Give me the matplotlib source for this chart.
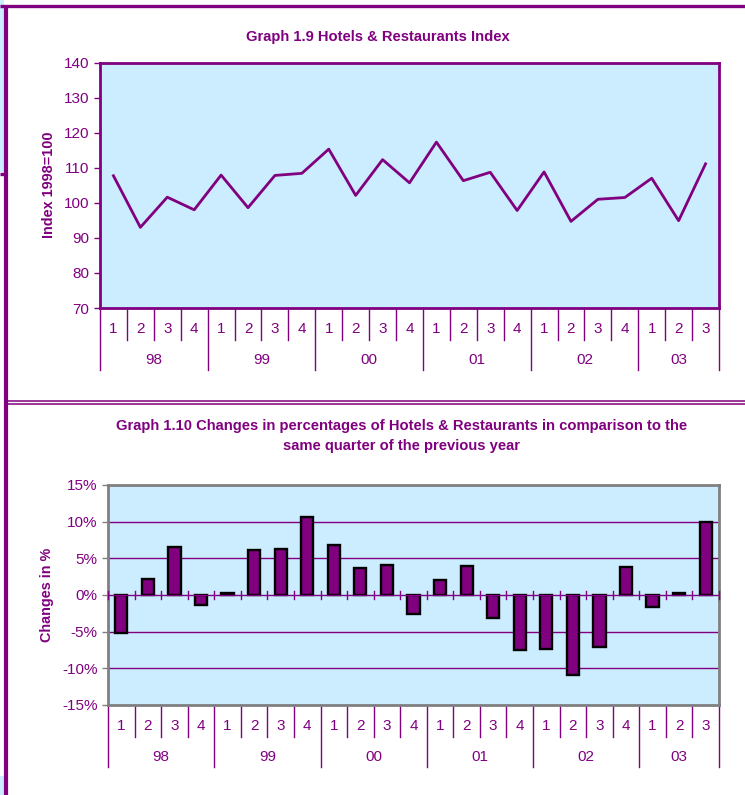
import matplotlib
matplotlib.use('Agg')
import matplotlib.pyplot as plt
import matplotlib.transforms as mtrans
import numpy as np

plt.rcParams['font.family'] = ['Liberation Sans', 'DejaVu Sans']

PURPLE = '#800080'
BG = '#CCECFF'
GRAY = '#808080'
W, H = 745, 795

# ---- data ----
years = ['98', '99', '00', '01', '02', '03']
quarters = ['1', '2', '3', '4'] * 5 + ['1', '2', '3']
index_vals = [107.7, 93.0, 101.6, 98.0, 107.9, 98.6, 107.8, 108.4, 115.3, 102.1,
              112.3, 105.7, 117.3, 106.3, 108.7, 97.8, 108.8, 94.7, 101.0, 101.5,
              107.0, 94.9, 111.1]
change_vals = [-5.2, 2.2, 6.5, -1.4, 0.3, 6.1, 6.3, 10.7, 6.8, 3.7, 4.1, -2.6,
               2.0, 4.0, -3.2, -7.5, -7.4, -10.9, -7.1, 3.8, -1.6, 0.3, 10.0]

fig = plt.figure(figsize=(W / 100, H / 100), dpi=100)


def px_axes(l, t, r, b):
    return fig.add_axes([l / W, 1 - b / H, (r - l) / W, (b - t) / H])


# page frame
frame = fig.add_axes([0, 0, 1, 1])
frame.set_xlim(0, W); frame.set_ylim(H, 0)
frame.axis('off')
frame.fill_between([0, 4], 0, 172, color=BG, lw=0)
frame.fill_between([0, 4], 776, H, color=BG, lw=0)
frame.plot([0, W], [6, 6], color=PURPLE, lw=2.4, solid_capstyle='butt')
frame.plot([6, 6], [6, H], color=PURPLE, lw=3, solid_capstyle='butt')
frame.plot([0, 6], [174, 174], color=PURPLE, lw=2.4, solid_capstyle='butt')
frame.plot([6, W], [400.7, 400.7], color=PURPLE, lw=1.1)
frame.plot([6, W], [403.5, 403.5], color=PURPLE, lw=1.1)


def category_axis(ax, y_q, y_qend, y_year, y_yend):
    n = len(quarters)
    tr = mtrans.blended_transform_factory(ax.transData, fig.transFigure)
    fy = lambda y: 1 - y / H
    top = ax.get_position().y0
    for k in range(n + 1):
        x = k - 0.5
        end = y_yend if (k % 4 == 0 or k == n) else y_qend
        ax.plot([x, x], [top, fy(end)], transform=tr, color=PURPLE, lw=1,
                clip_on=False)
    for i, q in enumerate(quarters):
        ax.text(i, fy(y_q), q, transform=tr, ha='center', va='center',
                fontsize=11, color=PURPLE)
    for j, yr in enumerate(years):
        start = j * 4
        stop = min(start + 4, n)
        ax.text((start + stop - 1) / 2, fy(y_year), yr, transform=tr,
                ha='center', va='center', fontsize=11, color=PURPLE)


x = np.arange(len(quarters))

# ---- Graph 1.9 ----
ax1 = px_axes(100, 62.5, 719, 308)
ax1.set_facecolor(BG)
ax1.plot(x, index_vals, color=PURPLE, lw=2)
ax1.set_xlim(-0.5, len(x) - 0.5)
ax1.set_ylim(70, 140)
ax1.set_yticks(range(70, 141, 10))
ax1.set_xticks([])
for s in ax1.spines.values():
    s.set_color(PURPLE); s.set_linewidth(2)
ax1.tick_params(axis='y', colors=PURPLE, labelsize=11, length=4, width=1)
ax1.set_ylabel('Index 1998=100', color=PURPLE, fontsize=10.4, fontweight='bold')
ax1.yaxis.set_label_coords(-0.071, 0.5)
category_axis(ax1, 329, 340, 360, 370)
fig.text(378 / W, 1 - 37 / H, 'Graph 1.9 Hotels & Restaurants Index',
         ha='center', va='center', fontsize=10.6, fontweight='bold', color=PURPLE)

# ---- Graph 1.10 ----
ax2 = px_axes(108, 485, 719, 705)
ax2.set_facecolor(BG)
ax2.set_xlim(-0.5, len(x) - 0.5)
ax2.set_ylim(-15, 15)
ax2.set_yticks(range(-15, 16, 5))
ax2.set_yticklabels([f'{v}%' for v in range(-15, 16, 5)])
ax2.set_xticks([])
for v in (-10, -5, 5, 10):
    ax2.axhline(v, color=PURPLE, lw=1, zorder=1)
ax2.bar(x, change_vals, width=0.46, color=PURPLE, edgecolor='black', lw=1.7,
        zorder=2)
ax2.axhline(0, color=PURPLE, lw=1, zorder=3)
for k in range(len(x) + 1):
    ax2.plot([k - 0.5, k - 0.5], [-0.55, 0.55], color=PURPLE, lw=1, zorder=3,
             clip_on=False)
for s in ax2.spines.values():
    s.set_color(GRAY); s.set_linewidth(2)
ax2.tick_params(axis='y', colors=PURPLE, labelsize=11, length=4, width=1)
ax2.tick_params(axis='y', color=GRAY)
ax2.set_ylabel('Changes in %', color=PURPLE, fontsize=10.4, fontweight='bold')
ax2.yaxis.set_label_coords(-0.088, 0.5)
category_axis(ax2, 726, 737, 757, 767)
fig.text(402 / W, 1 - 426 / H,
         'Graph 1.10 Changes in percentages of Hotels & Restaurants in comparison to the',
         ha='center', va='center', fontsize=10.6, fontweight='bold', color=PURPLE)
fig.text(402 / W, 1 - 446 / H, 'same quarter of the previous year',
         ha='center', va='center', fontsize=10.6, fontweight='bold', color=PURPLE)

fig.savefig('out.png', dpi=100)
